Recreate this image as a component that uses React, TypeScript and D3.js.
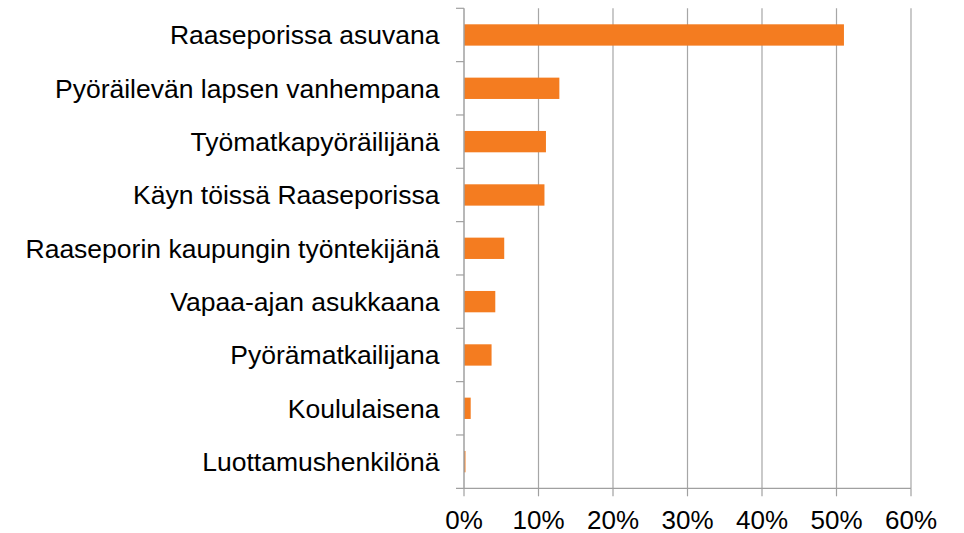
import React from "react";
import * as d3 from "d3";

const categories = [
  "Raaseporissa asuvana",
  "Pyöräilevän lapsen vanhempana",
  "Työmatkapyöräilijänä",
  "Käyn töissä Raaseporissa",
  "Raaseporin kaupungin työntekijänä",
  "Vapaa-ajan asukkaana",
  "Pyörämatkailijana",
  "Koululaisena",
  "Luottamushenkilönä",
];
const values = [0.51, 0.128, 0.11, 0.108, 0.054, 0.042, 0.037, 0.009, 0.002];
const xTicks = [0, 0.1, 0.2, 0.3, 0.4, 0.5, 0.6];

const W = 964;
const H = 533;
const left = 464;
const right = 911;
const top = 8.3;
const bottom = 488.3;
const font = "'Liberation Sans', Arial, sans-serif";

export default function App() {
  const x = d3.scaleLinear().domain([0, 0.6]).range([left, right]);
  const y = d3.scaleBand().domain(categories).range([top, bottom]).paddingInner(0.6).paddingOuter(0.3);
  const band = (bottom - top) / categories.length;
  const fmt = d3.format(".0%");

  return (
    <svg width={W} height={H} style={{ position: "absolute", left: 0, top: 0 }}>
      <rect width={W} height={H} fill="#fff" />
      {xTicks.slice(1).map((t) => (
        <line key={"g" + t} x1={x(t)} x2={x(t)} y1={top} y2={bottom} stroke="#a6a6a6" strokeWidth={1.2} />
      ))}
      {categories.map((c, i) => (
        <rect
          key={c}
          x={x(0)}
          y={y(c)}
          width={x(values[i]) - x(0)}
          height={y.bandwidth()}
          fill="#f47c20"
        />
      ))}
      <line x1={left} x2={left} y1={top} y2={bottom} stroke="#a0a0a0" strokeWidth={1.5} />
      <line x1={left - 8} x2={right} y1={bottom} y2={bottom} stroke="#a0a0a0" strokeWidth={1.2} />
      {d3.range(categories.length).map((i) => (
        <line key={"t" + i} x1={left - 8} x2={left} y1={top + i * band} y2={top + i * band} stroke="#a0a0a0" strokeWidth={1.2} />
      ))}
      {xTicks.map((t) => (
        <line key={"xt" + t} x1={x(t)} x2={x(t)} y1={bottom} y2={bottom + 8} stroke="#a0a0a0" strokeWidth={1.2} />
      ))}
      {categories.map((c) => (
        <text
          key={"l" + c}
          x={left - 24.5}
          y={(y(c) as number) + y.bandwidth() / 2}
          dy="0.35em"
          textAnchor="end"
          fontFamily={font}
          fontSize={26.5}
          fill="#000"
        >
          {c}
        </text>
      ))}
      {xTicks.map((t) => (
        <text
          key={"xl" + t}
          x={x(t)}
          y={528.5}
          textAnchor="middle"
          fontFamily={font}
          fontSize={26}
          fill="#000"
        >
          {fmt(t)}
        </text>
      ))}
    </svg>
  );
}
